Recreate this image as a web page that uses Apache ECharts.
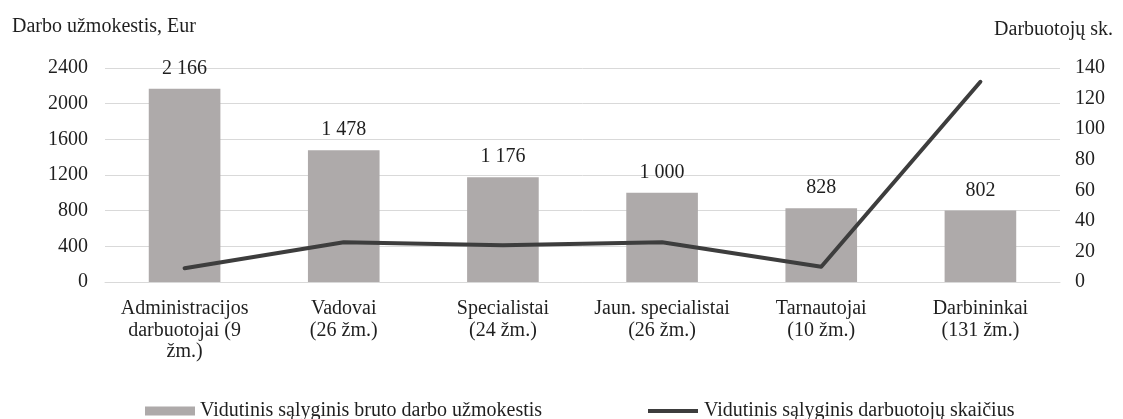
<!DOCTYPE html>
<html>
<head>
<meta charset="utf-8">
<script src="https://cdn.jsdelivr.net/npm/echarts@6/dist/echarts.min.js"></script>
<style>
  html, body { margin: 0; padding: 0; background: #fff; }
  #chart { width: 1123px; height: 419px; }
</style>
</head>
<body>
<div id="chart"></div>
<script>
const categories = [
  'Administracijos\ndarbuotojai (9\nžm.)',
  'Vadovai\n(26 žm.)',
  'Specialistai\n(24 žm.)',
  'Jaun. specialistai\n(26 žm.)',
  'Tarnautojai\n(10 žm.)',
  'Darbininkai\n(131 žm.)'
]
// average gross wage, Eur
const wages = [2166, 1478, 1176, 1000, 828, 802]
// employee count
const employees = [9, 26, 24, 26, 10, 131]

const barName = 'Vidutinis sąlyginis bruto darbo užmokestis'
const lineName = 'Vidutinis sąlyginis darbuotojų skaičius'

const font = 'Liberation Serif, Times New Roman, serif'
const textColor = '#1f1f1f'
const fs = 20

const fmt = (v) => String(v).replace(/\B(?=(\d{3})+(?!\d))/g, ' ')

const chart = echarts.init(document.getElementById('chart'))
chart.setOption({
  backgroundColor: '#fff',
  textStyle: { fontFamily: font, color: textColor },
  title: [{
    text: 'Darbo užmokestis, Eur',
    left: 7,
    top: 12,
    textStyle: { fontFamily: font, fontSize: fs, fontWeight: 'normal', color: textColor }
  }, {
    text: 'Darbuotojų sk.',
    right: 5,
    top: 15,
    textStyle: { fontFamily: font, fontSize: fs, fontWeight: 'normal', color: textColor }
  }],
  legend: [{
    data: [barName],
    left: 140,
    top: 396,
    icon: 'rect',
    itemWidth: 50,
    itemHeight: 9,
    itemGap: 6,
    textStyle: { fontFamily: font, fontSize: fs, color: textColor }
  }, {
    data: [{
      name: lineName,
      icon: 'path://M0,0 L50,0 L50,4 L0,4 Z'
    }],
    left: 643,
    top: 396,
    itemWidth: 52,
    itemHeight: 4,
    textStyle: { fontFamily: font, fontSize: fs, color: textColor }
  }],
  grid: {
    left: 105,
    right: 63,
    top: 68,
    bottom: 137
  },
  xAxis: {
    type: 'category',
    data: categories,
    axisLine: { show: true, lineStyle: { color: '#d9d9d9' } },
    axisTick: { show: false },
    axisLabel: {
      interval: 0,
      margin: 16,
      fontFamily: font,
      fontSize: fs,
      lineHeight: 21.5,
      color: textColor
    }
  },
  yAxis: [{
    type: 'value',
    min: 0,
    max: 2400,
    interval: 400,
    axisLine: { show: false },
    axisTick: { show: false },
    axisLabel: {
      margin: 17,
      fontFamily: font,
      fontSize: fs,
      color: textColor,
      formatter: (v) => String(v)
    },
    splitLine: { lineStyle: { color: '#d9d9d9', width: 1 } }
  }, {
    type: 'value',
    min: 0,
    max: 140,
    interval: 20,
    axisLine: { show: false },
    axisTick: { show: false },
    axisLabel: {
      margin: 15,
      fontFamily: font,
      fontSize: fs,
      color: textColor,
      formatter: (v) => String(v)
    },
    splitLine: { show: false }
  }],
  series: [{
    name: barName,
    type: 'bar',
    data: wages,
    barWidth: '45%',
    itemStyle: { color: '#aeaaaa' },
    label: {
      show: true,
      position: 'top',
      distance: 10,
      fontFamily: font,
      fontSize: fs,
      color: textColor,
      formatter: (p) => fmt(p.value)
    }
  }, {
    name: lineName,
    type: 'line',
    yAxisIndex: 1,
    data: employees,
    showSymbol: false,
    symbol: 'none',
    lineStyle: { color: '#3d3d3d', width: 4, cap: 'round', join: 'round' },
    itemStyle: { color: '#3d3d3d' }
  }]
})
</script>
</body>
</html>
